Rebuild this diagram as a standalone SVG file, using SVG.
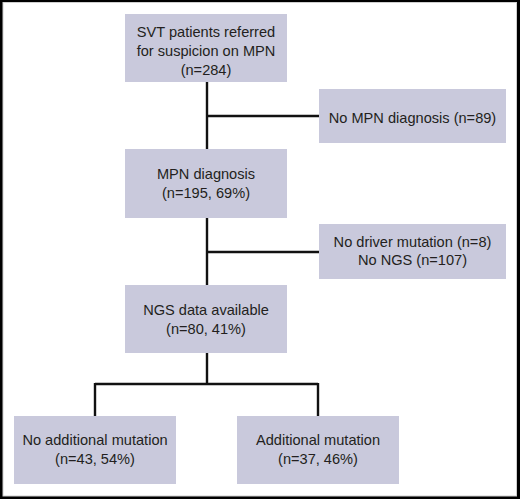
<svg xmlns="http://www.w3.org/2000/svg" width="520" height="499" viewBox="0 0 520 499">
<style>
.box{fill:#c9c9dc;}
.t{font-family:"Liberation Sans",Arial,sans-serif;font-size:14.6px;fill:#231f20;text-anchor:middle;}
.c{fill:none;stroke:#111;stroke-width:2.4;}
</style>
<rect x="0" y="0" width="520" height="499" fill="#000"/>
<rect x="3" y="2.5" width="513.5" height="493.5" fill="#fff" stroke="#cfcfcf" stroke-width="1"/>
<g id="connectors">
<path class="c" d="M207 82V149M207 116H319M207 218V285M207 252H319M207 353V384M95 384H318M95 383V416M318 383V416"/>
</g>
<g id="n1"><rect class="box" x="125" y="14" width="162" height="68"/>
<text class="t" x="206" y="36.5">SVT patients referred</text>
<text class="t" x="206" y="55.5">for suspicion on MPN</text>
<text class="t" x="206" y="74.5">(n=284)</text></g>
<g id="n2"><rect class="box" x="319" y="89" width="187" height="54"/>
<text class="t" x="412.5" y="122.5">No MPN diagnosis (n=89)</text></g>
<g id="n3"><rect class="box" x="125" y="149" width="162" height="69"/>
<text class="t" x="206" y="179">MPN diagnosis</text>
<text class="t" x="206" y="198">(n=195, 69%)</text></g>
<g id="n4"><rect class="box" x="319" y="224" width="187" height="55"/>
<text class="t" x="412.5" y="246.5">No driver mutation (n=8)</text>
<text class="t" x="412.5" y="265">No NGS (n=107)</text></g>
<g id="n5"><rect class="box" x="125" y="285" width="162" height="68"/>
<text class="t" x="206" y="315">NGS data available</text>
<text class="t" x="206" y="334">(n=80, 41%)</text></g>
<g id="n6"><rect class="box" x="14" y="416" width="162" height="68"/>
<text class="t" x="95" y="445">No additional mutation</text>
<text class="t" x="95" y="463.5">(n=43, 54%)</text></g>
<g id="n7"><rect class="box" x="237" y="416" width="162" height="68"/>
<text class="t" x="318" y="445">Additional mutation</text>
<text class="t" x="318" y="463.5">(n=37, 46%)</text></g>
</svg>
